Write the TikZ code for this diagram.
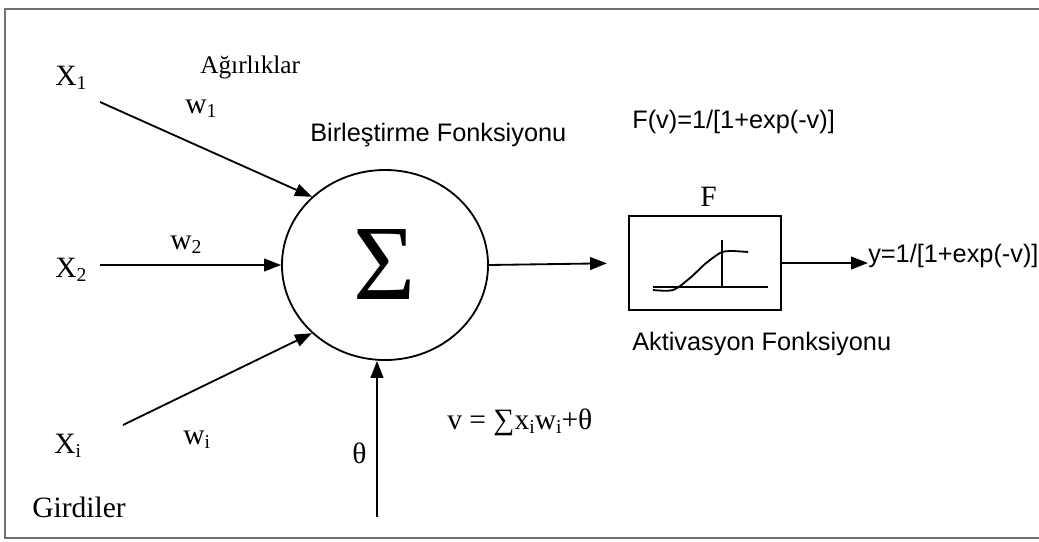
\documentclass[tikz,border=0pt]{standalone}
\usepackage{fontspec}
\setmainfont{Liberation Serif}
\setsansfont{Liberation Sans}
\usetikzlibrary{arrows.meta,shapes.geometric}
\definecolor{annFrame}{HTML}{707070}
\newcommand{\ix}[1]{\raisebox{-0.35ex}{\fontsize{14}{14}\selectfont #1}}
\tikzset{
  lbl/.style={anchor=base west,inner sep=0pt,font=\fontsize{21}{21}\selectfont},
  smalllbl/.style={lbl,font=\fontsize{18}{18}\selectfont},
  sanslbl/.style={lbl,font=\sffamily\fontsize{18}{18}\selectfont},
  arr/.style={-{Triangle[length=12pt,width=9pt]},line width=1.3pt},
  frame/.style={draw=annFrame,line width=1.4pt},
  curve/.style={line width=1.3pt},
}

\begin{document}
\begin{tikzpicture}[x=0.025cm,y=-0.025cm]
    \useasboundingbox (0,0) rectangle (1039,541);
    \draw[frame] (1039,9) -- (5,9) -- (5,538) -- (1039,538);
    % --- inputs and weights
    \node[lbl] (x1) at (55,85)  {X\ix{1}};
    \node[lbl] (x2) at (55,277) {X\ix{2}};
    \node[lbl] (xi) at (54,453) {X\ix{i}};
    \node[lbl] (w1) at (185,113) {w\ix{1}};
    \node[lbl] (w2) at (170,249) {w\ix{2}};
    \node[lbl] (wi) at (183,444) {w\ix{i}};
    \node[smalllbl] (agr) at (200,73) {Ağırlıklar};
    \node[lbl] (gir) at (32,517) {Girdiler};
    \node[lbl] (theta) at (352,463) {θ};
    % --- summation
    \node[draw,ellipse,line width=1.3pt,minimum width=5.15cm,minimum height=4.75cm,
          inner sep=0pt,font=\fontsize{76}{76}\selectfont] (sum) at (385,265) {Σ};
    \node[sanslbl] (birl) at (310,141) {Birleştirme Fonksiyonu};
    \node[lbl] (vsum) at (447,429) {v = ∑x\ix{i}w\ix{i}+θ};
    % --- activation
    \node[draw,line width=1.3pt,minimum width=3.8cm,minimum height=2.35cm] (act) at (705,263) {};
    \node[lbl] (flbl) at (700,206) {F};
    \node[sanslbl] (fv) at (632,128) {F(v)=1/[1+exp(-v)]};
    \node[sanslbl] (akt) at (632,350) {Aktivasyon Fonksiyonu};
    \node[sanslbl] (yout) at (868,262) {y=1/[1+exp(-v)]};
    \draw[curve] (653,287) -- (768,287);
    \draw[curve] (722,240) -- (722,287);
    \draw[curve] plot[smooth] coordinates {(653,290) (673,290) (690,278) (705,264) (720,253) (730,251) (748,252)};

    \coordinate (s1) at (100,102);
    \coordinate (s2) at (100,265);
    \coordinate (si) at (123,425);
    \coordinate (st) at (377,517);
    \draw[arr] (s1) -- (sum.137);
    \draw[arr] (s2) -- (sum.west);
    \draw[arr] (si) -- (sum.223);
    \draw[arr] (st) -- (st |- sum.south);
    \draw[arr,shorten >=15pt] (sum.east) -- (act.west);
    \draw[arr] (act.east) -- (act.east -| yout.west);
  \end{tikzpicture}
\end{document}
